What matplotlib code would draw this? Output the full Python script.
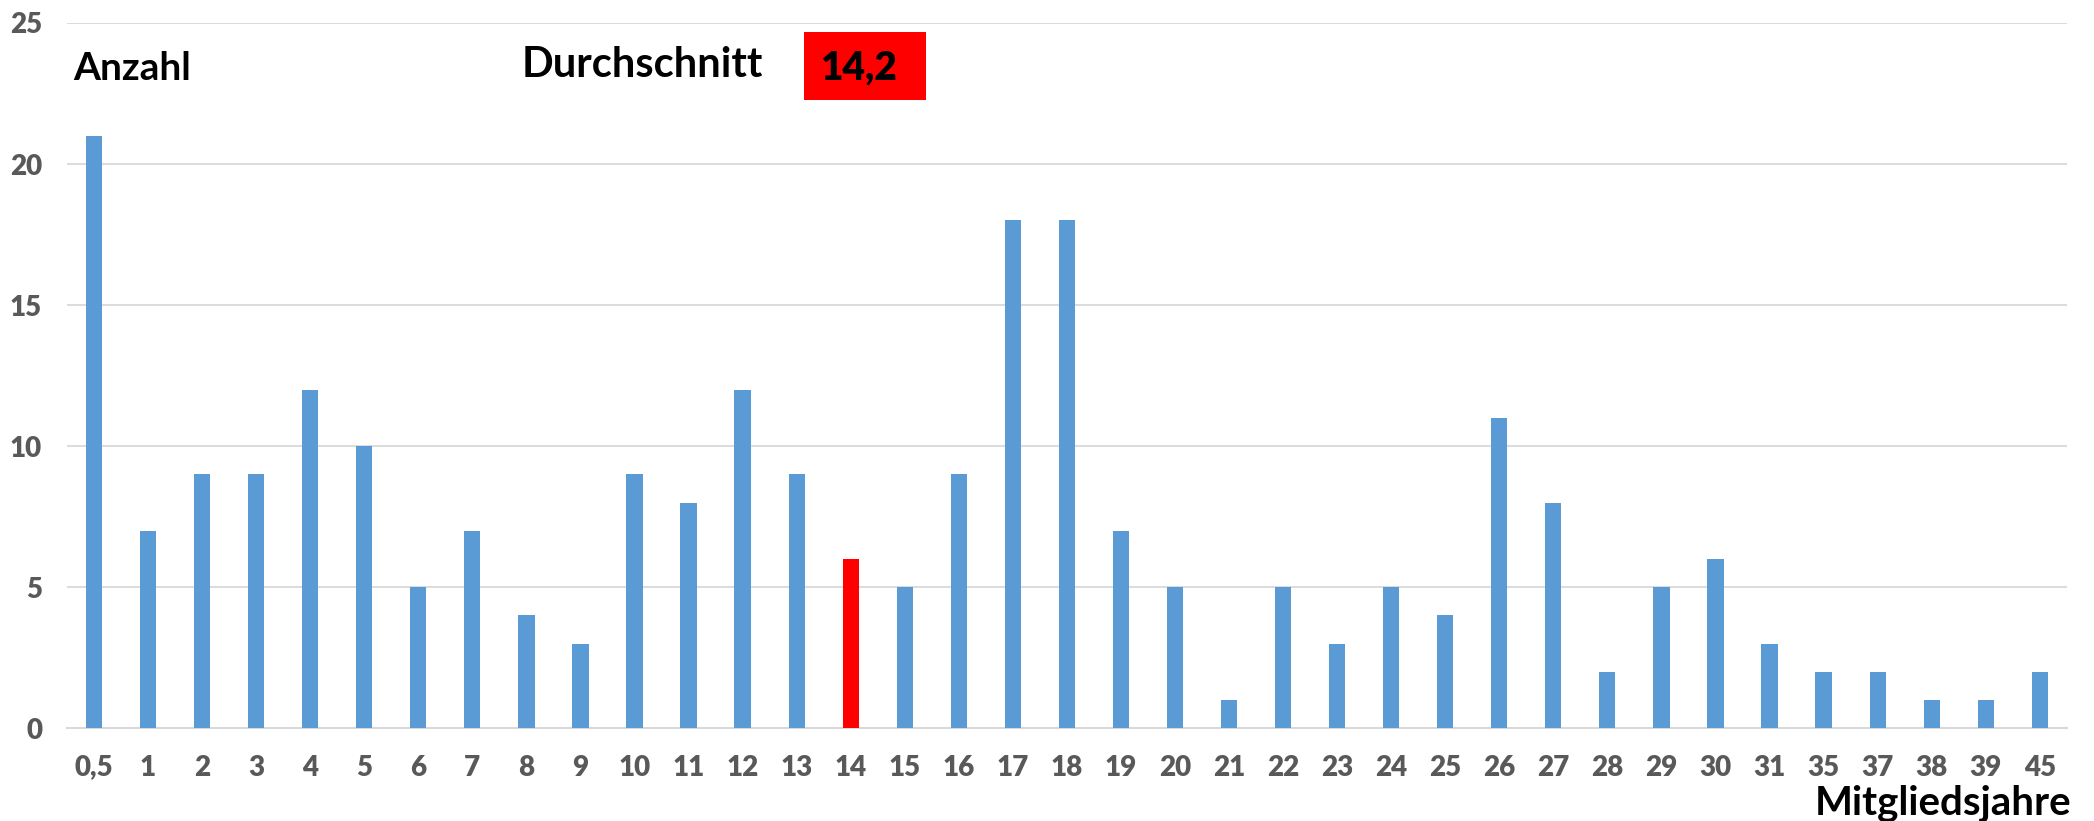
import matplotlib.pyplot as plt
from matplotlib.patches import Rectangle

plt.rcParams['font.family'] = ['Lato', 'DejaVu Sans']

# Mitgliedsjahre (Kategorien) und Anzahl Mitglieder
jahre = ["0,5", "1", "2", "3", "4", "5", "6", "7", "8", "9", "10", "11", "12",
         "13", "14", "15", "16", "17", "18", "19", "20", "21", "22", "23", "24",
         "25", "26", "27", "28", "29", "30", "31", "35", "37", "38", "39", "45"]
anzahl = [21, 7, 9, 9, 12, 10, 5, 7, 4, 3, 9, 8, 12, 9, 6, 5, 9, 18, 18, 7, 5,
          1, 5, 3, 5, 4, 11, 8, 2, 5, 6, 3, 2, 2, 1, 1, 2]
durchschnitt = "14,2"
markiert = "14"
y_ticks = [0, 5, 10, 15, 20, 25]

blau = "#5B9BD5"
rot = "#FF0000"
grau = "#595959"

farben = [rot if j == markiert else blau for j in jahre]

fig = plt.figure(figsize=(20.94, 8.21), dpi=100)
ax = fig.add_axes([0.032, 0.113, 0.955, 0.859])

x = range(len(jahre))
ax.bar(x, anzahl, width=0.3, color=farben, zorder=3)

ax.set_xlim(-0.5, len(jahre) - 0.5)
ax.set_ylim(0, 25)
ax.set_yticks(y_ticks)
ax.set_xticks(list(x))
ax.set_xticklabels(jahre)
ax.grid(axis="y", color="#D9D9D9", linewidth=1.3, zorder=0)
for s in ["top", "right", "left"]:
    ax.spines[s].set_visible(False)
ax.spines["bottom"].set_color("#D9D9D9")
ax.spines["bottom"].set_linewidth(1.5)
ax.tick_params(axis="both", length=0, labelsize=20, labelcolor=grau)
ax.tick_params(axis="x", pad=19)
ax.tick_params(axis="y", pad=18)
for lab in ax.get_xticklabels() + ax.get_yticklabels():
    lab.set_fontweight("heavy")

fig.text(0.035, 0.903, "Anzahl", fontsize=28, fontweight="bold", color="black",
         va="baseline", ha="left")
fig.text(0.249, 0.906, "Durchschnitt", fontsize=30, fontweight="bold", color="black",
         va="baseline", ha="left")
fig.patches.append(Rectangle((0.384, 0.878), 0.058, 0.083, transform=fig.transFigure,
                             facecolor=rot, edgecolor="none"))
fig.text(0.410, 0.917, durchschnitt, fontsize=28, fontweight="heavy", color="black",
         va="center", ha="center")
fig.text(0.989, 0.008, "Mitgliedsjahre", fontsize=29, fontweight="bold", color="black",
         va="baseline", ha="right")

fig.savefig("out.png", dpi=100)
